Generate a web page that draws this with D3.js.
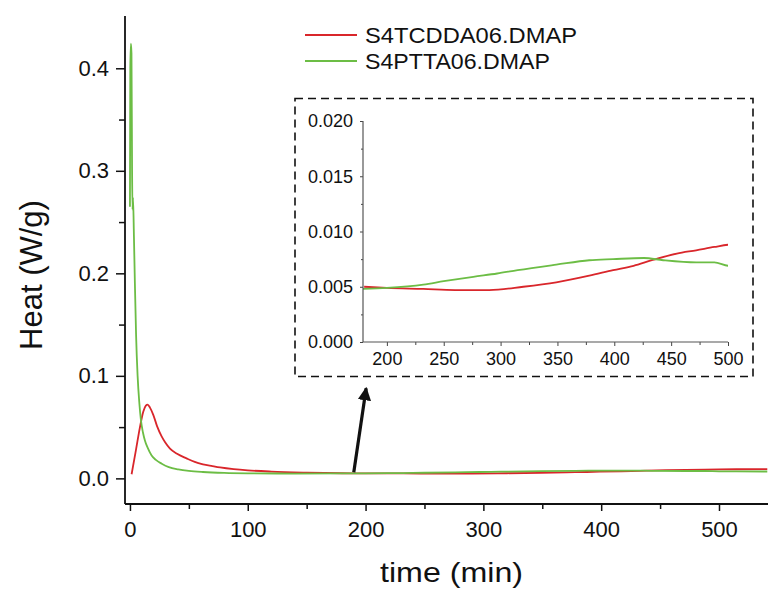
<!DOCTYPE html>
<html>
<head>
<meta charset="utf-8">
<script src="https://cdn.jsdelivr.net/npm/d3@7"></script>
<style>
  html, body { margin: 0; padding: 0; background: #fff; }
  svg { display: block; font-family: "Liberation Sans", Arial, sans-serif; }
</style>
</head>
<body>
<svg id="chart" width="770" height="590"></svg>
<script>
// ---------- data ----------
const seriesNames = ["S4TCDDA06.DMAP", "S4PTTA06.DMAP"];
const seriesColors = ["#d9262b", "#6cbd45"];

// S4TCDDA06.DMAP : time (min), heat (W/g)
const redTime = [1.4, 5, 8.5, 11.3, 13.5, 15, 17, 19.8, 23, 26.9, 30, 34, 40, 48, 55, 62, 70, 76.5, 88, 100,
  120, 150, 180, 200, 232, 260, 290, 320, 349, 378, 399, 417, 433, 455, 472, 488, 500, 541];
const redHeat = [0.004, 0.027, 0.050, 0.065, 0.071, 0.072, 0.069, 0.062, 0.051, 0.041, 0.035, 0.029, 0.024, 0.0195, 0.016, 0.0137, 0.012, 0.0107, 0.009, 0.0078,
  0.0066, 0.0056, 0.0050, 0.0049, 0.0048, 0.0047, 0.0047, 0.0050, 0.0054, 0.0060, 0.0065, 0.0069, 0.0074, 0.0080, 0.0083, 0.0086, 0.0088, 0.0090];

// S4PTTA06.DMAP
const greenTime = [0, 0.3, 0.8, 1.3, 1.8, 2.2, 2.6, 3.4, 4.2, 5.2, 6.5, 8, 9.3, 11, 12.7, 15, 18.4, 22, 27, 33, 41, 50, 62, 80, 100,
  140, 179, 200, 232, 250, 276, 297, 315, 349, 378, 399, 426, 443, 472, 488, 500, 541];
const greenHeat = [0.265, 0.40, 0.424, 0.415, 0.30, 0.262, 0.274, 0.235, 0.19, 0.14, 0.10, 0.073, 0.057, 0.045, 0.037, 0.030, 0.0224, 0.018, 0.0143, 0.011, 0.0088, 0.0073, 0.0062, 0.0053, 0.0049,
  0.0047, 0.0048, 0.0049, 0.0052, 0.0055, 0.0059, 0.0062, 0.0065, 0.0070, 0.0074, 0.0075, 0.0076, 0.0074, 0.0072, 0.0072, 0.0069, 0.0067];

// axes ticks
const mainXTicks = [0, 100, 200, 300, 400, 500];
const mainXMinor = [50, 150, 250, 350, 450];
const mainYTicks = [0.0, 0.1, 0.2, 0.3, 0.4];
const mainYMinor = [0.05, 0.15, 0.25, 0.35];
const insetXTicks = [200, 250, 300, 350, 400, 450, 500];
const insetXMinor = [225, 275, 325, 375, 425, 475];
const insetYTicks = [0.000, 0.005, 0.010, 0.015, 0.020];
const insetYMinor = [0.0025, 0.0075, 0.0125, 0.0175];

// arrow annotation (data units of the main chart): tail -> tip
const arrowTail = [190, 0.006];
const arrowTip = [200.5, 0.088];

// ---------- drawing ----------
const svg = d3.select("#chart");
const series = [
  { name: seriesNames[0], color: seriesColors[0], pts: redTime.map((t, i) => [t, redHeat[i]]) },
  { name: seriesNames[1], color: seriesColors[1], pts: greenTime.map((t, i) => [t, greenHeat[i]]) }
];

// main scales
const x = d3.scaleLinear().domain([-4.2, 541.6]).range([125, 768]);
const y = d3.scaleLinear().domain([-0.025, 0.451]).range([504, 16]);

svg.append("defs").append("clipPath").attr("id", "mainClip")
  .append("rect").attr("x", 125).attr("y", 16).attr("width", 645).attr("height", 488);

const line = d3.line().x(d => x(d[0])).y(d => y(d[1])).curve(d3.curveMonotoneX);
const gMain = svg.append("g").attr("clip-path", "url(#mainClip)");
series.forEach(s => {
  gMain.append("path").datum(s.pts).attr("d", line)
    .attr("fill", "none").attr("stroke", s.color).attr("stroke-width", 1.8)
    .attr("stroke-linejoin", "round");
});

// main axes
const xAxisG = svg.append("g").attr("transform", "translate(0,504)");
xAxisG.call(d3.axisBottom(x).tickValues(mainXTicks).tickSize(7).tickPadding(10).tickFormat(d3.format("d")));
xAxisG.append("g").call(d3.axisBottom(x).tickValues(mainXMinor).tickSize(5).tickFormat(""))
  .select(".domain").remove();
const yAxisG = svg.append("g").attr("transform", "translate(125,0)");
yAxisG.call(d3.axisLeft(y).tickValues(mainYTicks).tickSize(9).tickPadding(7).tickFormat(d3.format(".1f")));
yAxisG.append("g").call(d3.axisLeft(y).tickValues(mainYMinor).tickSize(6).tickFormat(""))
  .select(".domain").remove();
[xAxisG, yAxisG].forEach(g => {
  g.selectAll(".domain").remove();
  g.selectAll(".tick line").attr("stroke", "#111").attr("stroke-width", 1.5);
  g.selectAll(".tick text").attr("fill", "#111").attr("font-size", 22)
    .attr("font-family", "'Liberation Sans', Arial, sans-serif");
});
svg.append("line").attr("x1", 125).attr("x2", 768).attr("y1", 504).attr("y2", 504)
  .attr("stroke", "#111").attr("stroke-width", 1.8);
svg.append("line").attr("x1", 125).attr("x2", 125).attr("y1", 16).attr("y2", 504)
  .attr("stroke", "#111").attr("stroke-width", 1.8);

// axis titles
svg.append("text").attr("x", 380).attr("y", 582).attr("font-size", 28)
  .attr("textLength", 143).attr("lengthAdjust", "spacingAndGlyphs")
  .attr("fill", "#111").text("time (min)");
svg.append("text").attr("transform", "translate(42,275) rotate(-90)")
  .attr("text-anchor", "middle").attr("font-size", 31).attr("fill", "#111")
  .text("Heat (W/g)");

// legend
series.forEach((s, i) => {
  const ly = 35 + i * 26;
  svg.append("line").attr("x1", 305).attr("x2", 357).attr("y1", ly).attr("y2", ly)
    .attr("stroke", s.color).attr("stroke-width", 1.8);
  svg.append("text").attr("x", 365).attr("y", ly + 8).attr("font-size", 22)
    .attr("textLength", i === 0 ? 212 : 185).attr("lengthAdjust", "spacingAndGlyphs")
    .attr("fill", "#111").text(s.name);
});

// inset dashed box
svg.append("rect").attr("x", 295).attr("y", 98.5).attr("width", 458).attr("height", 278)
  .attr("fill", "#fff").attr("stroke", "#111").attr("stroke-width", 1.6)
  .attr("stroke-dasharray", "8,5");

// inset scales
const xi = d3.scaleLinear().domain([179, 500]).range([363, 728]);
const yi = d3.scaleLinear().domain([0, 0.02]).range([342, 121]);
svg.select("defs").append("clipPath").attr("id", "insetClip")
  .append("rect").attr("x", 363).attr("y", 121).attr("width", 365).attr("height", 221);
const lineI = d3.line().x(d => xi(d[0])).y(d => yi(d[1])).curve(d3.curveMonotoneX);
const gIn = svg.append("g").attr("clip-path", "url(#insetClip)");
series.forEach(s => {
  gIn.append("path").datum(s.pts.filter(p => p[0] >= 170)).attr("d", lineI)
    .attr("fill", "none").attr("stroke", s.color).attr("stroke-width", 1.8);
});

const xiG = svg.append("g").attr("transform", "translate(0,342)");
xiG.call(d3.axisBottom(xi).tickValues(insetXTicks).tickSize(4).tickPadding(6).tickFormat(d3.format("d")));
xiG.append("g").call(d3.axisBottom(xi).tickValues(insetXMinor).tickSize(3).tickFormat(""))
  .select(".domain").remove();
const yiG = svg.append("g").attr("transform", "translate(363,0)");
yiG.call(d3.axisLeft(yi).tickValues(insetYTicks).tickSize(3).tickPadding(7).tickFormat(d3.format(".3f")));
yiG.append("g").call(d3.axisLeft(yi).tickValues(insetYMinor).tickSize(2).tickFormat(""))
  .select(".domain").remove();
[xiG, yiG].forEach(g => {
  g.selectAll(".domain").remove();
  g.selectAll(".tick line").attr("stroke", "#444").attr("stroke-width", 1);
  g.selectAll(".tick text").attr("fill", "#111").attr("font-size", 18)
    .attr("font-family", "'Liberation Sans', Arial, sans-serif");
});
svg.append("line").attr("x1", 363).attr("x2", 728).attr("y1", 342).attr("y2", 342)
  .attr("stroke", "#555").attr("stroke-width", 1.2);
svg.append("line").attr("x1", 363).attr("x2", 363).attr("y1", 121).attr("y2", 342)
  .attr("stroke", "#555").attr("stroke-width", 1.2);

// arrow
svg.select("defs").append("marker").attr("id", "arrowHead")
  .attr("viewBox", "0 0 10 10").attr("refX", 9).attr("refY", 5)
  .attr("markerWidth", 4.2).attr("markerHeight", 4.6).attr("markerUnits", "strokeWidth")
  .attr("orient", "auto")
  .append("path").attr("d", "M0,0 L10,5 L0,10 Z").attr("fill", "#111");
svg.append("line")
  .attr("x1", x(arrowTail[0])).attr("y1", y(arrowTail[1]))
  .attr("x2", x(arrowTip[0])).attr("y2", y(arrowTip[1]))
  .attr("stroke", "#111").attr("stroke-width", 3.2)
  .attr("marker-end", "url(#arrowHead)");
</script>
</body>
</html>
